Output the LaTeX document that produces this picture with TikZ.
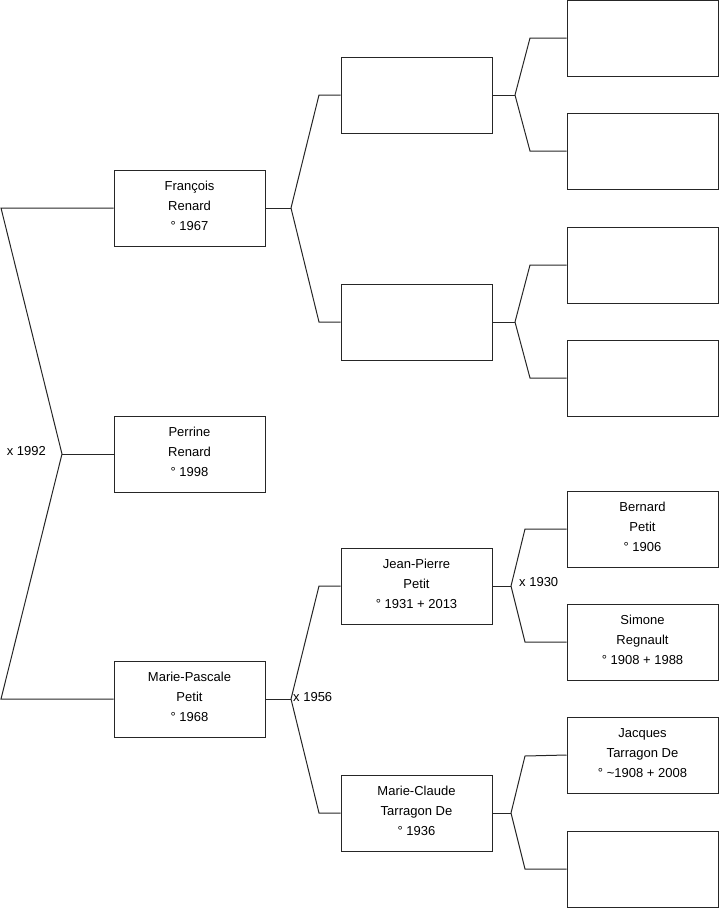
\documentclass[tikz,border=0pt]{standalone}
\usepackage{fontspec}
\setmainfont{Liberation Sans}
\begin{document}
\begin{tikzpicture}[x=1pt,y=-1pt,
  person/.style={draw=black!85, line width=1pt, fill=white, rectangle, inner sep=0pt,
    minimum width=151pt, minimum height=76pt},
  ptext/.style={align=center, inner sep=0pt, font=\fontsize{13}{20}\selectfont},
  link/.style={draw=black!85, line width=1pt},
  lbl/.style={font=\fontsize{13}{14}\selectfont, inner sep=0pt}]
\useasboundingbox (0,0) rectangle (719,908);
% level 1
\node[person] (francois) at (189.5,208) {};
\node[ptext] (francoisT) at ([yshift=2pt]francois.center) {François\\Renard\\° 1967};
\node[person] (perrine) at (189.5,454) {};
\node[ptext] (perrineT) at ([yshift=2pt]perrine.center) {Perrine\\Renard\\° 1998};
\node[person] (mp) at (189.5,699) {};
\node[ptext] (mpT) at ([yshift=2pt]mp.center) {Marie-Pascale\\Petit\\° 1968};
% level 2
\node[person] (fa) at (416.5,95) {};
\node[person] (fb) at (416.5,322) {};
\node[person] (jp) at (416.5,586) {};
\node[ptext] (jpT) at ([yshift=2pt]jp.center) {Jean-Pierre\\Petit\\° 1931 + 2013};
\node[person] (mc) at (416.5,813) {};
\node[ptext] (mcT) at ([yshift=2pt]mc.center) {Marie-Claude\\Tarragon De\\° 1936};
% level 3
\node[person] (g1) at (642.5,38) {};
\node[person] (g2) at (642.5,151) {};
\node[person] (g3) at (642.5,265) {};
\node[person] (g4) at (642.5,378) {};
\node[person] (bp) at (642.5,529) {};
\node[ptext] (bpT) at ([yshift=2pt]bp.center) {Bernard\\Petit\\° 1906};
\node[person] (sr) at (642.5,642) {};
\node[ptext] (srT) at ([yshift=2pt]sr.center) {Simone\\Regnault\\° 1908 + 1988};
\node[person] (jt) at (642.5,755) {};
\node[ptext] (jtT) at ([yshift=2pt]jt.center) {Jacques\\Tarragon De\\° \textasciitilde1908 + 2008};
\node[person] (g8) at (642.5,869) {};
% left bracket
\coordinate (l1) at (1,208);
\coordinate (m0) at (62,454);
\coordinate (l2) at (1,699);
\draw[link] (francois.west) -- (l1) -- (m0) -- (l2) -- (mp.west);
\draw[link] (m0) -- (perrine.west);
\node[lbl, anchor=east] (x1992) at (46,451) {x 1992};
% francois fork
\coordinate (f1) at (291,208);
\coordinate (f1a) at (319,95);
\coordinate (f1b) at (319,322);
\draw[link] (francois.east) -- (f1);
\draw[link] (f1) -- (f1a) -- (fa.west);
\draw[link] (f1) -- (f1b) -- (fb.west);
% mp fork
\coordinate (f2) at (291,699);
\coordinate (f2a) at (319,586);
\coordinate (f2b) at (319,813);
\draw[link] (mp.east) -- (f2);
\draw[link] (f2) -- (f2a) -- (jp.west);
\draw[link] (f2) -- (f2b) -- (mc.west);
\node[lbl, anchor=west] (x1956) at (293,697) {x 1956};
% fa fork
\coordinate (f3) at (515,95);
\coordinate (f3a) at (530,38);
\coordinate (f3b) at (530,151);
\draw[link] (fa.east) -- (f3);
\draw[link] (f3) -- (f3a) -- (g1.west);
\draw[link] (f3) -- (f3b) -- (g2.west);
% fb fork
\coordinate (f4) at (515,322);
\coordinate (f4a) at (530,265);
\coordinate (f4b) at (530,378);
\draw[link] (fb.east) -- (f4);
\draw[link] (f4) -- (f4a) -- (g3.west);
\draw[link] (f4) -- (f4b) -- (g4.west);
% jp fork
\coordinate (f5) at (511,586);
\coordinate (f5a) at (525,529);
\coordinate (f5b) at (525,642);
\draw[link] (jp.east) -- (f5);
\draw[link] (f5) -- (f5a) -- (bp.west);
\draw[link] (f5) -- (f5b) -- (sr.west);
\node[lbl, anchor=west] (x1930) at (519,582) {x 1930};
% mc fork
\coordinate (f6) at (511,813);
\coordinate (f6a) at (525,756);
\coordinate (f6b) at (525,869);
\draw[link] (mc.east) -- (f6);
\draw[link] (f6) -- (f6a) -- (jt.west);
\draw[link] (f6) -- (f6b) -- (g8.west);
\end{tikzpicture}
\end{document}
